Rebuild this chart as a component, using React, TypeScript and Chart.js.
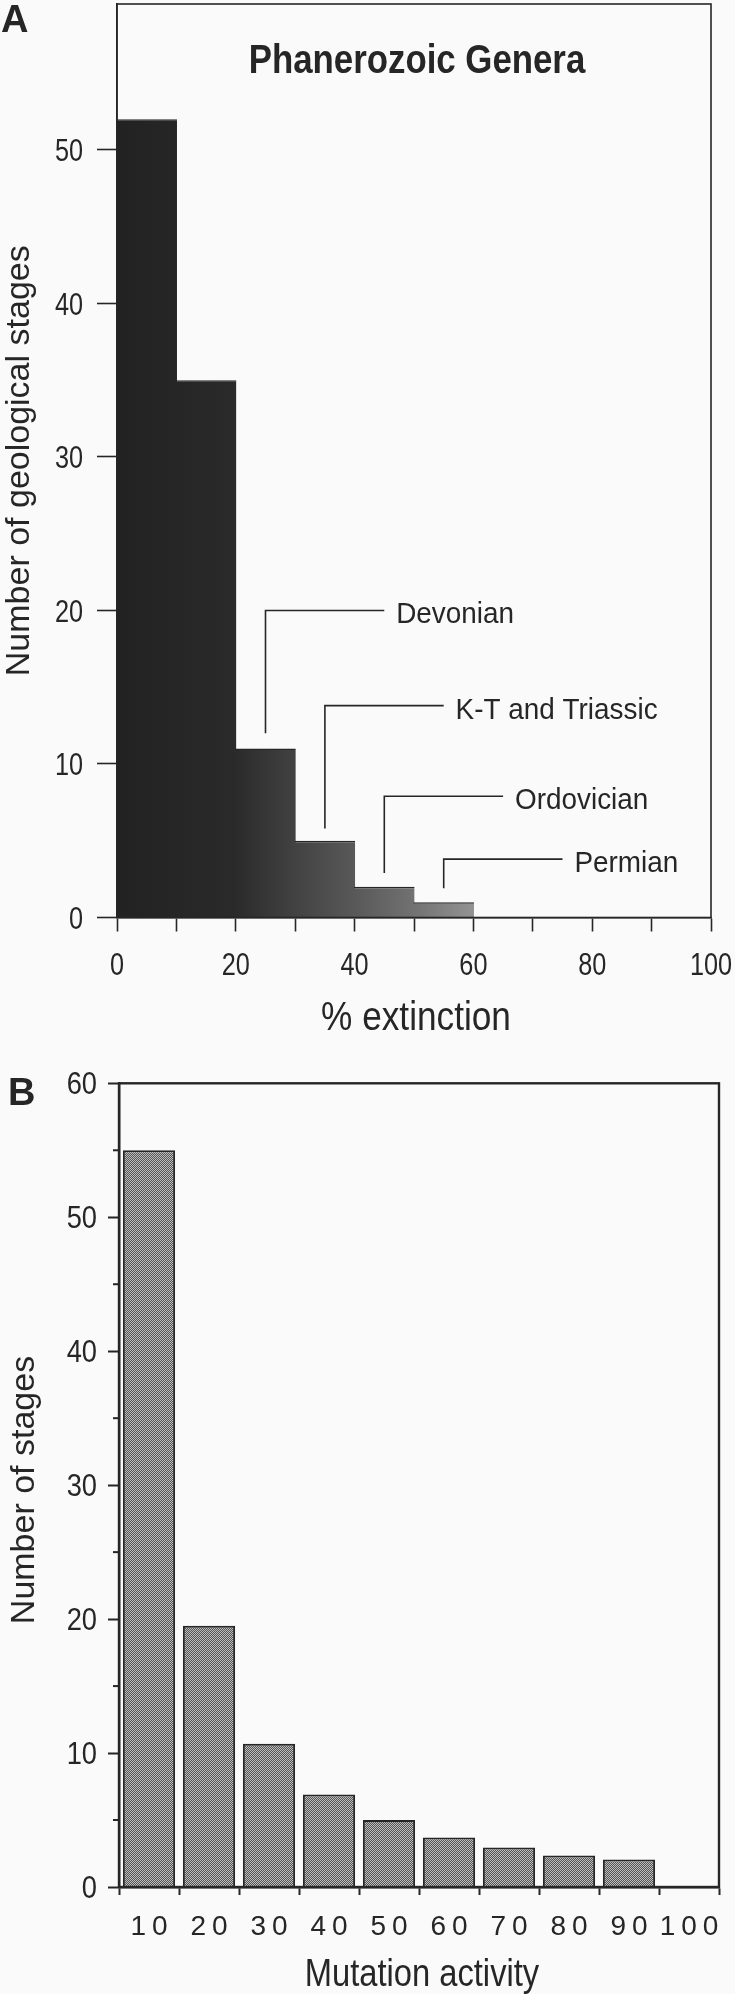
import React, { useEffect, useRef } from "react";
import { Chart, registerables } from "chart.js";

Chart.register(...registerables);

// ---------- Panel A data ----------
const extinctionBinCenters = [5, 15, 25, 35, 45, 55, 65, 75, 85, 95];
const stageCounts = [52, 35, 11, 5, 2, 1, 0, 0, 0, 0];
const extinctionLabelStep = 20;
const titleA = "Phanerozoic Genera";
const xTitleA = "% extinction";
const yTitleA = "Number of geological stages";

// leader-line annotations (data units)
const eventNames = ["Devonian", "K-T and Triassic", "Ordovician", "Permian"];
const eventX = [25, 35, 45, 55];
const eventLow = [12, 5.8, 2.9, 1.9];
const eventHigh = [20, 13.8, 7.9, 3.8];
const eventEnd = [45, 55, 65, 75];

// ---------- Panel B data ----------
const mutationLabels = ["10", "20", "30", "40", "50", "60", "70", "80", "90", "100"];
const mutationCounts = [55, 19.5, 10.7, 6.9, 5.0, 3.7, 2.95, 2.35, 2.05, 0];
const xTitleB = "Mutation activity";
const yTitleB = "Number of stages";

const INK = "#262626";
const FONT = "'Liberation Sans', Arial, Helvetica, sans-serif";

type TxtOpts = { bold?: boolean; align?: CanvasTextAlign; sx?: number; rot?: number; baseline?: CanvasTextBaseline; spacing?: number };

function txt(ctx: CanvasRenderingContext2D, s: string, x: number, y: number, size: number, o: TxtOpts = {}) {
  ctx.save();
  const sp = o.spacing || 0;
  ctx.translate(x + (o.align === "center" ? sp / 2 : o.align === "right" ? sp : 0), y);
  ctx.scale(o.sx ?? 1, 1);
  if (o.rot) ctx.rotate(o.rot);
  ctx.font = `${o.bold ? "bold " : ""}${size}px ${FONT}`;
  ctx.textAlign = o.align ?? "left";
  ctx.textBaseline = o.baseline ?? "alphabetic";
  (ctx as any).letterSpacing = `${sp}px`;
  ctx.fillStyle = INK;
  ctx.fillText(s, 0, 0);
  ctx.restore();
}

function ChartA() {
  const ref = useRef<HTMLCanvasElement>(null);
  useEffect(() => {
    const canvas = ref.current!;
    const overlay = {
      id: "overlayA",
      afterDraw(chart: any) {
        const { ctx, chartArea: a, scales } = chart;
        const xs = scales.x;
        const ys = scales.y;
        ctx.save();
        ctx.strokeStyle = INK;
        ctx.lineWidth = 1.6;
        ctx.strokeRect(a.left, a.top, a.right - a.left, a.bottom - a.top);
        // leader lines
        eventNames.forEach((name, i) => {
          const x = xs.getPixelForValue(eventX[i]);
          const yl = ys.getPixelForValue(eventLow[i]);
          const yh = ys.getPixelForValue(eventHigh[i]);
          const xe = xs.getPixelForValue(eventEnd[i]);
          ctx.beginPath();
          ctx.moveTo(x, yl);
          ctx.lineTo(x, yh);
          ctx.lineTo(xe, yh);
          ctx.stroke();
          txt(ctx, name, xs.getPixelForValue(eventEnd[i] + 2), yh + 13, 30, { sx: 0.93 });
        });
        ctx.restore();
        // tick labels
        ys.ticks.forEach((t: any) => {
          txt(ctx, String(t.value), 83, ys.getPixelForValue(t.value) + 11.5, 32, { align: "right", sx: 0.79 });
        });
        xs.ticks.forEach((t: any) => {
          if (t.value % extinctionLabelStep !== 0) return;
          txt(ctx, String(t.value), xs.getPixelForValue(t.value), 974.5, 32, { align: "center", sx: 0.79 });
        });
        // titles
        txt(ctx, "A", 1, 32, 38, { bold: true });
        txt(ctx, titleA, (a.left + a.right) / 2 + 3, 73, 40, { bold: true, align: "center", sx: 0.87 });
        txt(ctx, xTitleA, (a.left + a.right) / 2 + 2, 1030, 40, { align: "center", sx: 0.88 });
        txt(ctx, yTitleA, 20, (a.top + a.bottom) / 2, 34, { align: "center", baseline: "middle", rot: -Math.PI / 2 });
      },
    };
    const chart = new Chart(canvas, {
      type: "bar",
      data: {
        datasets: [
          {
            data: extinctionBinCenters.map((x, i) => ({ x, y: stageCounts[i] })),
            backgroundColor: (c: any) => {
              const ch = c.chart;
              if (!ch.chartArea) return "#2a2a2a";
              const xs = ch.scales.x;
              const g = ch.ctx.createLinearGradient(xs.getPixelForValue(0), 0, xs.getPixelForValue(60), 0);
              g.addColorStop(0, "#222222");
              g.addColorStop(0.33, "#2a2a2a");
              g.addColorStop(0.5, "#424242");
              g.addColorStop(0.67, "#595959");
              g.addColorStop(0.83, "#717171");
              g.addColorStop(1, "#939393");
              return g;
            },
            borderColor: INK,
            borderWidth: { top: 1.5, left: 0, right: 0, bottom: 0 },
            barPercentage: 1.02,
            categoryPercentage: 1,
          },
        ],
      },
      options: {
        animation: false,
        responsive: false,
        devicePixelRatio: 1,
        layout: { padding: { left: 0, right: 24, top: 4, bottom: 0 } },
        plugins: { legend: { display: false }, tooltip: { enabled: false } },
        scales: {
          x: {
            type: "linear",
            min: 0,
            max: 100,
            offset: false,
            afterFit: (s: any) => { s.height = 127.5; },
            grid: { offset: false, drawOnChartArea: false, drawTicks: true, tickLength: 14, tickColor: INK, tickWidth: 1.6 },
            border: { display: true, color: INK, width: 1.6 },
            ticks: { stepSize: 10, autoSkip: false, display: false },
            title: { display: false },
          },
          y: {
            type: "linear",
            min: 0,
            max: 59.5,
            afterFit: (s: any) => { s.width = 117; },
            grid: { drawOnChartArea: false, drawTicks: true, tickLength: 20, tickColor: INK, tickWidth: 1.6 },
            border: { display: true, color: INK, width: 1.6 },
            ticks: { stepSize: 10, includeBounds: false, display: false },
            title: { display: false },
          },
        },
      },
      plugins: [overlay],
    } as any);
    return () => chart.destroy();
  }, []);
  return <canvas ref={ref} width={735} height={1045} style={{ display: "block", width: 735, height: 1045 }} />;
}

function ChartB() {
  const ref = useRef<HTMLCanvasElement>(null);
  useEffect(() => {
    const canvas = ref.current!;
    const ctx0 = canvas.getContext("2d")!;
    const pc = document.createElement("canvas");
    pc.width = 2;
    pc.height = 2;
    const pctx = pc.getContext("2d")!;
    pctx.fillStyle = "#bdbdbd";
    pctx.fillRect(0, 0, 2, 2);
    pctx.fillStyle = "#555555";
    pctx.fillRect(0, 0, 1, 1);
    pctx.fillRect(1, 1, 1, 1);
    const pattern = ctx0.createPattern(pc, "repeat");

    const overlay = {
      id: "overlayB",
      afterDraw(chart: any) {
        const { ctx, chartArea: a, scales } = chart;
        const xs = scales.x;
        const ys = scales.y;
        ctx.save();
        ctx.strokeStyle = INK;
        ctx.lineWidth = 2.4;
        ctx.strokeRect(a.left, a.top, a.right - a.left, a.bottom - a.top);
        ctx.lineWidth = 2;
        ys.ticks.forEach((t: any) => {
          if (t.value % 10 === 0) return;
          const y = ys.getPixelForValue(t.value);
          ctx.beginPath();
          ctx.moveTo(a.left - 6, y);
          ctx.lineTo(a.left, y);
          ctx.stroke();
        });
        ctx.restore();
        ys.ticks.forEach((t: any) => {
          if (t.value % 10 !== 0) return;
          txt(ctx, String(t.value), 97, ys.getPixelForValue(t.value) + 11, 31, { align: "right", sx: 0.88 });
        });
        mutationLabels.forEach((lab, i) => {
          txt(ctx, lab, xs.getPixelForTick(i), 890, 28, { align: "center", spacing: 6 });
        });
        txt(ctx, "B", 8, 60, 38, { bold: true });
        txt(ctx, xTitleB, (a.left + a.right) / 2 + 3, 941, 38, { align: "center", sx: 0.86 });
        txt(ctx, yTitleB, 25, 445, 34, { align: "center", baseline: "middle", rot: -Math.PI / 2 });
      },
    };

    const chart = new Chart(canvas, {
      type: "bar",
      data: {
        labels: mutationLabels,
        datasets: [
          {
            data: mutationCounts,
            backgroundColor: pattern,
            borderColor: INK,
            borderWidth: 2,
            barPercentage: 0.87,
            categoryPercentage: 1,
          },
        ],
      },
      options: {
        animation: false,
        responsive: false,
        devicePixelRatio: 1,
        layout: { padding: { left: 0, right: 16, top: 38.3, bottom: 0 } },
        plugins: { legend: { display: false }, tooltip: { enabled: false } },
        scales: {
          x: {
            type: "category",
            offset: true,
            afterFit: (s: any) => { s.height = 107; },
            grid: { offset: true, drawOnChartArea: false, drawTicks: true, tickLength: 8, tickColor: INK, tickWidth: 2 },
            border: { display: true, color: INK, width: 2.4 },
            ticks: { autoSkip: false, display: false },
            title: { display: false },
          },
          y: {
            type: "linear",
            min: 0,
            max: 60,
            afterFit: (s: any) => { s.width = 119; },
            grid: {
              drawOnChartArea: false,
              drawTicks: true,
              tickLength: 11,
              tickColor: (c: any) => (c.tick && c.tick.value % 10 === 0 ? INK : "rgba(0,0,0,0)"),
              tickWidth: 2,
            },
            border: { display: true, color: INK, width: 2.4 },
            ticks: { stepSize: 5, autoSkip: false, display: false },
            title: { display: false },
          },
        },
      },
      plugins: [overlay],
    } as any);
    return () => chart.destroy();
  }, []);
  return <canvas ref={ref} width={735} height={949} style={{ display: "block", width: 735, height: 949 }} />;
}

export default function App() {
  return (
    <div
      style={{
        position: "absolute",
        left: 0,
        top: 0,
        width: 735,
        height: 1994,
        background: "#fafafa",
        overflow: "hidden",
      }}
    >
      <ChartA />
      <ChartB />
    </div>
  );
}
